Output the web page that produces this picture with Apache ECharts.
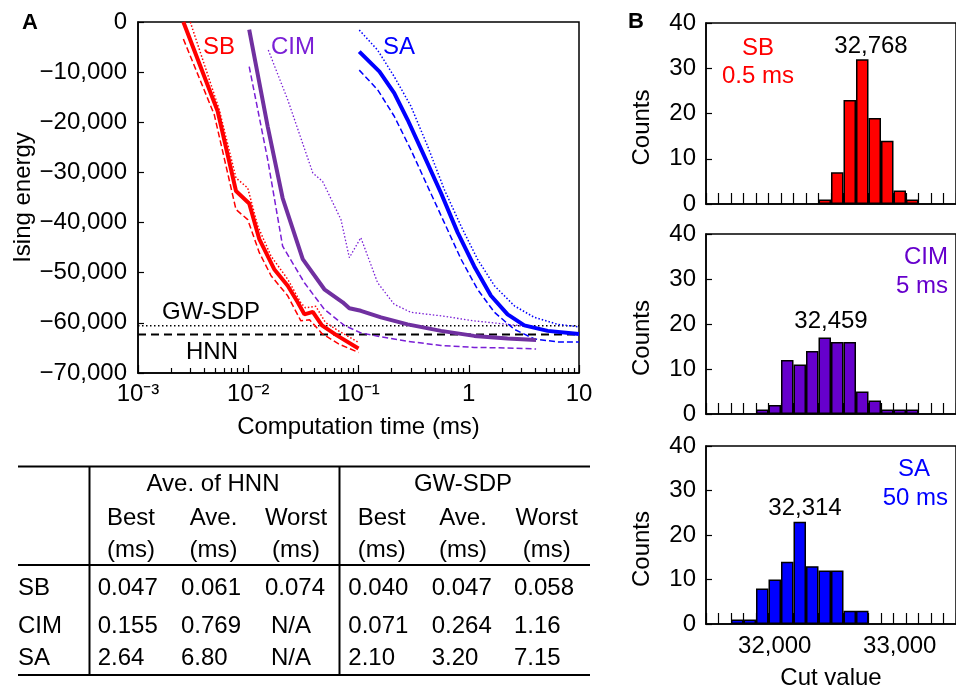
<!doctype html>
<html>
<head>
<meta charset="utf-8">
<title>Ising energy / cut value</title>
<script src="https://cdn.jsdelivr.net/npm/echarts@6/dist/echarts.min.js"></script>
<style>
html, body { margin: 0; padding: 0; background: #fff; }
#main { width: 956px; height: 691px; }
</style>
</head>
<body>
<div id="main"></div>
<script>
// ---- panel A : [time (ms), Ising energy] ----
var sbAve   = [[0.00258,0],[0.00528,-17800],[0.00774,-33700],[0.0102,-36200],[0.0126,-43300],[0.0172,-49300],[0.0228,-52600],[0.0281,-55900],[0.0323,-58300],[0.0385,-57800],[0.0466,-60500],[0.0636,-62500],[0.1,-65100]];
var sbWorst = [[0.00298,0],[0.00546,-17500],[0.00774,-31100],[0.00989,-33100],[0.0122,-40700],[0.0161,-46700],[0.0228,-51300],[0.0300,-56000],[0.0330,-57000],[0.0410,-56700],[0.0500,-59900],[0.0660,-61600],[0.1,-63900]];
var sbBest  = [[0.00258,-3400],[0.00492,-18500],[0.00774,-37400],[0.00989,-39400],[0.0126,-46000],[0.0161,-50600],[0.0228,-54600],[0.0300,-59600],[0.0360,-59400],[0.0470,-62200],[0.0660,-64200],[0.1,-65900]];

var cimAve   = [[0.0102,-1500],[0.015,-20800],[0.0205,-35100],[0.0312,-47300],[0.049,-53300],[0.0719,-55900],[0.0826,-57100],[0.105,-57600],[0.16,-58900],[0.279,-60300],[0.56,-61600],[1.12,-62600],[2.25,-63100],[4.08,-63400]];
var cimWorst = [[0.0152,-5600],[0.0228,-15500],[0.0385,-30100],[0.0473,-31800],[0.0693,-39400],[0.0826,-47000],[0.105,-43000],[0.149,-52000],[0.211,-56300],[0.299,-57900],[0.56,-58600],[1.12,-59600],[2.25,-60300],[4.08,-60900]];
var cimBest  = [[0.0102,-8900],[0.015,-27400],[0.0205,-44700],[0.0323,-52000],[0.049,-57300],[0.0743,-60500],[0.105,-62000],[0.16,-62800],[0.28,-63700],[0.56,-64500],[1.12,-64900],[2.25,-65000],[4.08,-65200]];

var saAve   = [[0.1016,-5900],[0.155,-9900],[0.211,-14200],[0.279,-19500],[0.396,-26800],[0.56,-34100],[0.794,-42000],[1.12,-48700],[1.59,-54600],[2.25,-58300],[3.19,-60500],[5.2,-61600],[10,-62200]];
var saWorst = [[0.1016,-1600],[0.149,-5600],[0.211,-10900],[0.299,-16800],[0.424,-24800],[0.6,-33400],[0.851,-40700],[1.2,-47300],[1.71,-52600],[2.59,-56600],[3.93,-58900],[6.41,-60300],[10,-60800]];
var saBest  = [[0.1016,-9600],[0.149,-13500],[0.211,-18800],[0.299,-25500],[0.424,-32800],[0.6,-40000],[0.851,-47300],[1.2,-53300],[1.71,-57900],[2.59,-61300],[3.93,-63200],[6.41,-63800],[10,-63800]];

var gwSdpEnergy = -60600;
var hnnEnergy = -62300;
var timeRange = [0.001, 10];
var xTickLabels = { '-3': '10\u207B\u00B3', '-2': '10\u207B\u00B2', '-1': '10\u207B\u00B9', '0': '1', '1': '10' };

// ---- table ----
var tableRows = ['SB', 'CIM', 'SA'];
var tableCols = ['Best', 'Ave.', 'Worst'];
var hnnVals = [['0.047', '0.061', '0.074'], ['0.155', '0.769', 'N/A'], ['2.64', '6.80', 'N/A']];
var sdpVals = [['0.040', '0.047', '0.058'], ['0.071', '0.264', '1.16'], ['2.10', '3.20', '7.15']];

// ---- panel B : histograms, bins of 100 centred on the category value ----
var cutBins = [31500,31600,31700,31800,31900,32000,32100,32200,32300,32400,32500,32600,32700,32800,32900,33000,33100,33200,33300,33400];
var sbCounts  = [0,0,0,0,0,0,0,0,0,1,7,23,32,19,14,3,1,0,0,0];
var cimCounts = [0,0,0,0,1,2,12,11,14,17,16,16,5,3,1,1,1,0,0,0];
var saCounts  = [0,0,1,1,8,10,14,23,13,12,12,3,3,0,0,0,0,0,0,0];
var bestCuts = ['32,768', '32,459', '32,314'];

var FONT = 'Liberation Sans, Arial, Helvetica, sans-serif';
var FS = 24;
var RED = '#ff0000', PURPLE = '#7030a0', VIOLET = '#7a1fd6', BLUE = '#0000ff', HISTPURPLE = '#6600cc';

function fmtNum(v) {
    var s = Math.abs(v).toString().replace(/\B(?=(\d{3})+(?!\d))/g, ',');
    return v < 0 ? '\u2212' + s : s;
}

function curve(data, color, width, type) {
    return {
        type: 'line', xAxisIndex: 0, yAxisIndex: 0, data: data,
        showSymbol: false, symbol: 'none', silent: true, z: width > 2 ? 4 : 3,
        lineStyle: { color: color, width: width, type: type }
    };
}

function refLine(value, type, width) {
    return {
        type: 'line', xAxisIndex: 0, yAxisIndex: 0,
        data: [[timeRange[0], value], [timeRange[1], value]],
        showSymbol: false, symbol: 'none', silent: true, z: 2,
        lineStyle: { color: '#000', width: width, type: type }
    };
}

var histGrids = [
    { left: 706, top: 23, width: 257, height: 181 },
    { left: 706, top: 234, width: 257, height: 180 },
    { left: 706, top: 446, width: 257, height: 181 }
];

var grids = [{ left: 138, top: 22, width: 441, height: 351, show: true, borderColor: '#000', borderWidth: 1.5 }];
histGrids.forEach(function (g) {
    grids.push({ left: g.left, top: g.top, width: g.width, height: g.height, show: true, borderColor: '#000', borderWidth: 1.5 });
});

var xAxes = [{
    type: 'log', logBase: 10, gridIndex: 0, min: timeRange[0], max: timeRange[1],
    name: 'Computation time (ms)', nameLocation: 'middle', nameGap: 42,
    nameTextStyle: { fontFamily: FONT, fontSize: FS, color: '#000' },
    axisLine: { show: true, onZero: false, lineStyle: { color: '#000', width: 1.5 } },
    axisTick: { show: true, inside: true, length: 8, lineStyle: { color: '#000', width: 1.2 } },
    minorTick: { show: true, splitNumber: 9, length: 5, lineStyle: { color: '#000', width: 1.2 } },
    splitLine: { show: false },
    minorSplitLine: { show: false },
    axisLabel: {
        margin: 9, fontFamily: FONT, fontSize: FS, color: '#000',
        formatter: function (v) { return xTickLabels[Math.round(Math.log10(v))] || ''; }
    }
}];
var yAxes = [{
    type: 'value', gridIndex: 0, min: -70000, max: 0, interval: 10000,
    name: 'Ising energy', nameLocation: 'middle', nameGap: 103, nameRotate: 90,
    nameTextStyle: { fontFamily: FONT, fontSize: FS, color: '#000' },
    axisLine: { show: true, onZero: false, lineStyle: { color: '#000', width: 1.5 } },
    axisTick: { show: true, inside: true, length: 6, lineStyle: { color: '#000', width: 1.2 } },
    splitLine: { show: false },
    axisLabel: { margin: 11, fontFamily: FONT, fontSize: FS, color: '#000', formatter: fmtNum }
}];

histGrids.forEach(function (g, i) {
    var last = i === 2;
    xAxes.push({
        type: 'category', gridIndex: i + 1, data: cutBins, boundaryGap: true,
        name: last ? 'Cut value' : '', nameLocation: 'middle', nameGap: 42,
        nameTextStyle: { fontFamily: FONT, fontSize: FS, color: '#000' },
        axisLine: { show: true, onZero: false, lineStyle: { color: '#000', width: 1.5 } },
        axisTick: { show: true, inside: true, interval: 0, alignWithLabel: false, length: 11, lineStyle: { color: '#000', width: 1.2 } },
        splitLine: { show: false },
        axisLabel: {
            show: last, margin: 10, fontFamily: FONT, fontSize: FS, color: '#000',
            interval: function (idx, val) { return +val % 1000 === 0; },
            formatter: function (v) { return fmtNum(+v); }
        }
    });
    yAxes.push({
        type: 'value', gridIndex: i + 1, min: 0, max: 40, interval: 10,
        name: 'Counts', nameLocation: 'middle', nameGap: 52, nameRotate: 90,
        // padding on the text's right end pushes the rotated name a little downwards
        nameTextStyle: { fontFamily: FONT, fontSize: FS, color: '#000', padding: [0, 28, 0, 0] },
        axisLine: { show: true, onZero: false, lineStyle: { color: '#000', width: 1.5 } },
        axisTick: { show: true, inside: true, length: 6, lineStyle: { color: '#000', width: 1.2 } },
        splitLine: { show: false },
        axisLabel: { margin: 10, fontFamily: FONT, fontSize: FS, color: '#000' }
    });
});

function hist(counts, color, idx) {
    return {
        type: 'bar', xAxisIndex: idx, yAxisIndex: idx, barCategoryGap: '0%', silent: true,
        data: counts.map(function (c) { return c === 0 ? '-' : c; }),
        itemStyle: { color: color, borderColor: '#000', borderWidth: 1.5 }
    };
}

var series = [
    refLine(gwSdpEnergy, [1.5, 2.5], 1.5),
    refLine(hnnEnergy, [8, 5], 2),
    curve(sbWorst, RED, 1.5, [1.5, 2]),
    curve(sbBest, RED, 1.5, [6, 3]),
    curve(sbAve, RED, 4, 'solid'),
    curve(cimWorst, VIOLET, 1.3, [1.5, 2]),
    curve(cimBest, VIOLET, 1.5, [6, 3]),
    curve(cimAve, PURPLE, 4, 'solid'),
    curve(saWorst, BLUE, 1.5, [1.5, 2]),
    curve(saBest, BLUE, 1.5, [6, 3]),
    curve(saAve, BLUE, 4, 'solid'),
    hist(sbCounts, RED, 1),
    hist(cimCounts, HISTPURPLE, 2),
    hist(saCounts, BLUE, 3)
];

// text annotations and the table
function txt(x, y, s, opt) {
    opt = opt || {};
    return {
        type: 'text', x: x, y: y, silent: true,
        style: {
            text: s, fontFamily: FONT, fontSize: opt.size || FS, fontWeight: opt.bold ? 'bold' : 'normal',
            fill: opt.color || '#000', align: opt.align || 'center', verticalAlign: 'middle'
        }
    };
}
function hline(x1, x2, y, w) {
    return { type: 'line', silent: true, shape: { x1: x1, y1: y, x2: x2, y2: y }, style: { stroke: '#000', lineWidth: w || 2 } };
}
function vline(x, y1, y2, w) {
    return { type: 'line', silent: true, shape: { x1: x, y1: y1, x2: x, y2: y2 }, style: { stroke: '#000', lineWidth: w || 2 } };
}

var graphics = [
    txt(30, 23, 'A', { bold: true, size: 22 }),
    txt(636, 22, 'B', { bold: true, size: 22 }),
    txt(219, 47, 'SB', { color: RED }),
    txt(293, 47, 'CIM', { color: VIOLET }),
    txt(399, 47, 'SA', { color: BLUE }),
    txt(211, 312, 'GW-SDP'),
    txt(212, 352, 'HNN'),
    txt(758, 48, 'SB', { color: RED }),
    txt(758, 76, '0.5 ms', { color: RED }),
    txt(871, 46, bestCuts[0]),
    txt(948, 257, 'CIM', { color: HISTPURPLE, align: 'right' }),
    txt(948, 286, '5 ms', { color: HISTPURPLE, align: 'right' }),
    txt(831, 321, bestCuts[1]),
    txt(930, 469, 'SA', { color: BLUE, align: 'right' }),
    txt(948, 498, '50 ms', { color: BLUE, align: 'right' }),
    txt(805, 508, bestCuts[2])
];

// table geometry
var tTop = 466.5, tHead = 565, tBot = 675;
graphics.push(hline(18, 590, tTop), hline(18, 590, tHead), hline(18, 590, tBot));
graphics.push(vline(89.5, tTop, tBot), vline(339.5, tTop, tBot));
graphics.push(txt(213, 484, 'Ave. of HNN'), txt(463, 484, 'GW-SDP'));
var headCx = [131, 213.5, 296, 381.7, 463, 546.7];
var valX = [97.7, 181, 265, 348.3, 431.7, 514];
var rowY = [588, 626, 658];
headCx.forEach(function (cx, i) {
    graphics.push(txt(cx, 518, tableCols[i % 3]));
    graphics.push(txt(cx, 550, '(ms)'));
});
tableRows.forEach(function (r, ri) {
    graphics.push(txt(18, rowY[ri], r, { align: 'left' }));
    var vals = hnnVals[ri].concat(sdpVals[ri]);
    vals.forEach(function (v, ci) {
        graphics.push(txt(valX[ci] + (v === 'N/A' ? 6 : 0), rowY[ri], v, { align: 'left' }));
    });
});

var chart = echarts.init(document.getElementById('main'), null, { renderer: 'canvas' });
chart.setOption({
    backgroundColor: '#fff',
    animation: false,
    textStyle: { fontFamily: FONT },
    grid: grids,
    xAxis: xAxes,
    yAxis: yAxes,
    series: series,
    graphic: graphics
});
window.onresize = function () { chart.resize(); };
</script>
</body>
</html>
